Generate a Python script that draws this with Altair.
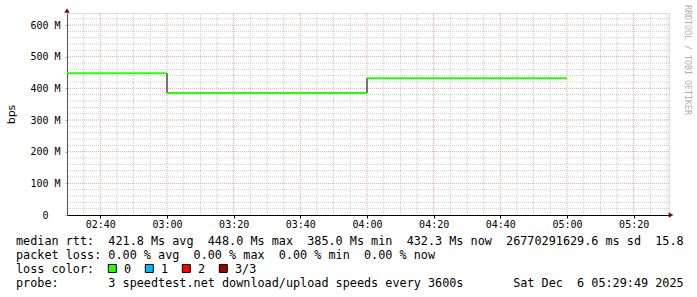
import altair as alt
import pandas as pd

# ---- data (minutes after midnight, Mbps) ----
seg_start = [150, 180, 240]          # 02:30, 03:00, 04:00
seg_end = [180, 240, 300]            # 03:00, 04:00, 05:00
seg_value = [448.0, 385.0, 432.3]    # median rtt (M)
step_x = [180, 240]
step_from = [448.0, 385.0]
step_to = [385.0, 432.3]

x_ticks = [160, 180, 200, 220, 240, 260, 280, 300, 320]
x_minor = [m for m in range(155, 335, 5) if m % 20 != 0]
y_ticks = [0, 100, 200, 300, 400, 500, 600]
y_minor = [v for v in range(20, 640, 20) if v % 100 != 0]

legend_rows = [
    "median rtt:  421.8 Ms avg  448.0 Ms max  385.0 Ms min  432.3 Ms now  26770291629.6 ms sd  15.8",
    "packet loss: 0.00 % avg  0.00 % max  0.00 % min  0.00 % now",
    "loss color:",
    "probe:       3 speedtest.net download/upload speeds every 3600s       Sat Dec  6 05:29:49 2025",
]
loss_labels = ["0", "1", "2", "3/3"]
loss_colors = ["#26ff00", "#00b8ff", "#ff0000", "#a00000"]
watermark = "RRDTOOL / TOBI OETIKER"

W, H = 602, 202
MONO = "DejaVu Sans Mono"

xscale = alt.Scale(domain=[150, 330.6], nice=False, zero=False)
yscale = alt.Scale(domain=[0, 638], nice=False, zero=True)

xaxis = alt.Axis(
    values=x_ticks,
    labelExpr="format(floor(datum.value/60), '02d') + ':' + format(datum.value % 60, '02d')",
    labelFont=MONO, labelFontSize=10, labelColor="#000",
    tickSize=3, tickColor="#000", domainColor="#000", domainWidth=1,
    labelPadding=1, grid=False, title=None,
)
yaxis = alt.Axis(
    values=y_ticks,
    labelExpr="datum.value == 0 ? '0' : datum.value + ' M'",
    labelFont=MONO, labelFontSize=10, labelColor="#000",
    labelAlign="center", labelBaseline="middle", labelPadding=20,
    tickSize=2, tickColor="#e09090", domainColor="#555", grid=False,
    title="bps", titleFont="DejaVu Sans", titleFontSize=11, titleFontWeight="normal",
    titleAngle=270, titleX=-56, titleY=101, titleAlign="center", titleBaseline="middle",
    titleColor="#000",
)

X = alt.X("x:Q", scale=xscale, axis=xaxis)
Y = alt.Y("y:Q", scale=yscale, axis=yaxis)

vminor = alt.Chart(pd.DataFrame({"x": x_minor})).mark_rule(
    color="#cccccc", strokeDash=[1, 1], strokeWidth=1).encode(x=X)
vmajor = alt.Chart(pd.DataFrame({"x": x_ticks})).mark_rule(
    color="#e8a0a0", strokeDash=[1, 1], strokeWidth=1).encode(x=X)
hminor = alt.Chart(pd.DataFrame({"y": y_minor})).mark_rule(
    color="#cccccc", strokeDash=[1, 1], strokeWidth=1).encode(y=Y)
hmajor = alt.Chart(pd.DataFrame({"y": y_ticks[1:]})).mark_rule(
    color="#e8a0a0", strokeDash=[1, 1], strokeWidth=1).encode(y=Y)

steps = alt.Chart(pd.DataFrame({"x": step_x, "y": step_from, "y2": step_to})).mark_rule(
    color="#000", strokeWidth=1).encode(x=X, y=Y, y2="y2:Q")
segs = alt.Chart(pd.DataFrame({"x": seg_start, "x2": seg_end, "y": seg_value})).mark_rule(
    color="#26ff00", strokeWidth=2).encode(x=X, x2="x2:Q", y=Y)

wm = alt.Chart(pd.DataFrame({"t": [watermark]})).mark_text(
    font=MONO, fontSize=8.3, angle=90, align="center", baseline="middle", color="#b0b0b0"
).encode(text="t:N", x=alt.value(620), y=alt.value(47))

row_y = [228, 242.2, 256.2, 270.4]
rows = []
for txt, yy in zip(legend_rows, row_y):
    rows.append(
        alt.Chart(pd.DataFrame({"t": [txt.replace(" ", "\u00a0")]})).mark_text(
            font=MONO, fontSize=11.8, align="left", baseline="middle", color="#000"
        ).encode(text="t:N", x=alt.value(-51), y=alt.value(yy))
    )

main = alt.layer(
    vminor, vmajor, hminor, hmajor, steps, segs, wm, *rows,
).properties(width=W, height=H)

# axis arrows (pixel placement, no scale)
arrow_df = pd.DataFrame({"px": [W + 2, 0], "py": [H, -2.5],
                         "shape": ["triangle-right", "triangle-up"]})
arrows = alt.Chart(arrow_df).mark_point(filled=True, color="#8b0000", size=30, opacity=1).encode(
    x=alt.X("px:Q", scale=None, axis=None),
    y=alt.Y("py:Q", scale=None, axis=None),
    shape=alt.Shape("shape:N", scale=None, legend=None),
)

loss_df = pd.DataFrame({
    "label": loss_labels,
    "color": loss_colors,
    "i": list(range(len(loss_labels))),
})
sq_x = alt.X("i:Q", scale=alt.Scale(domain=[0, 3], range=[45.3, 45.3 + 3 * 37]), axis=None)
squares = alt.Chart(loss_df).mark_point(shape="square", filled=True, size=64,
                                        stroke="#000", strokeWidth=1, opacity=1).encode(
    x=sq_x,
    y=alt.value(255.5),
    fill=alt.Fill("color:N", scale=None),
)
lb_x = alt.X("i:Q", scale=alt.Scale(domain=[0, 3], range=[57, 57 + 3 * 37]), axis=None)
sq_labels = alt.Chart(loss_df).mark_text(font=MONO, fontSize=11.8, align="left",
                                         baseline="middle", color="#000").encode(
    x=lb_x,
    y=alt.value(256.2),
    text="label:N",
)

chart = alt.layer(main, squares, sq_labels, arrows).resolve_scale(
    x="independent", y="independent"
).properties(
    width=W, height=H,
    autosize=alt.AutoSizeParams(type="none"),
    padding={"left": 67, "top": 13, "right": 28, "bottom": 82},
).configure_view(stroke=None).configure(background="#ffffff")

chart.save("out.html", embed_options={"renderer": "svg", "actions": False})
